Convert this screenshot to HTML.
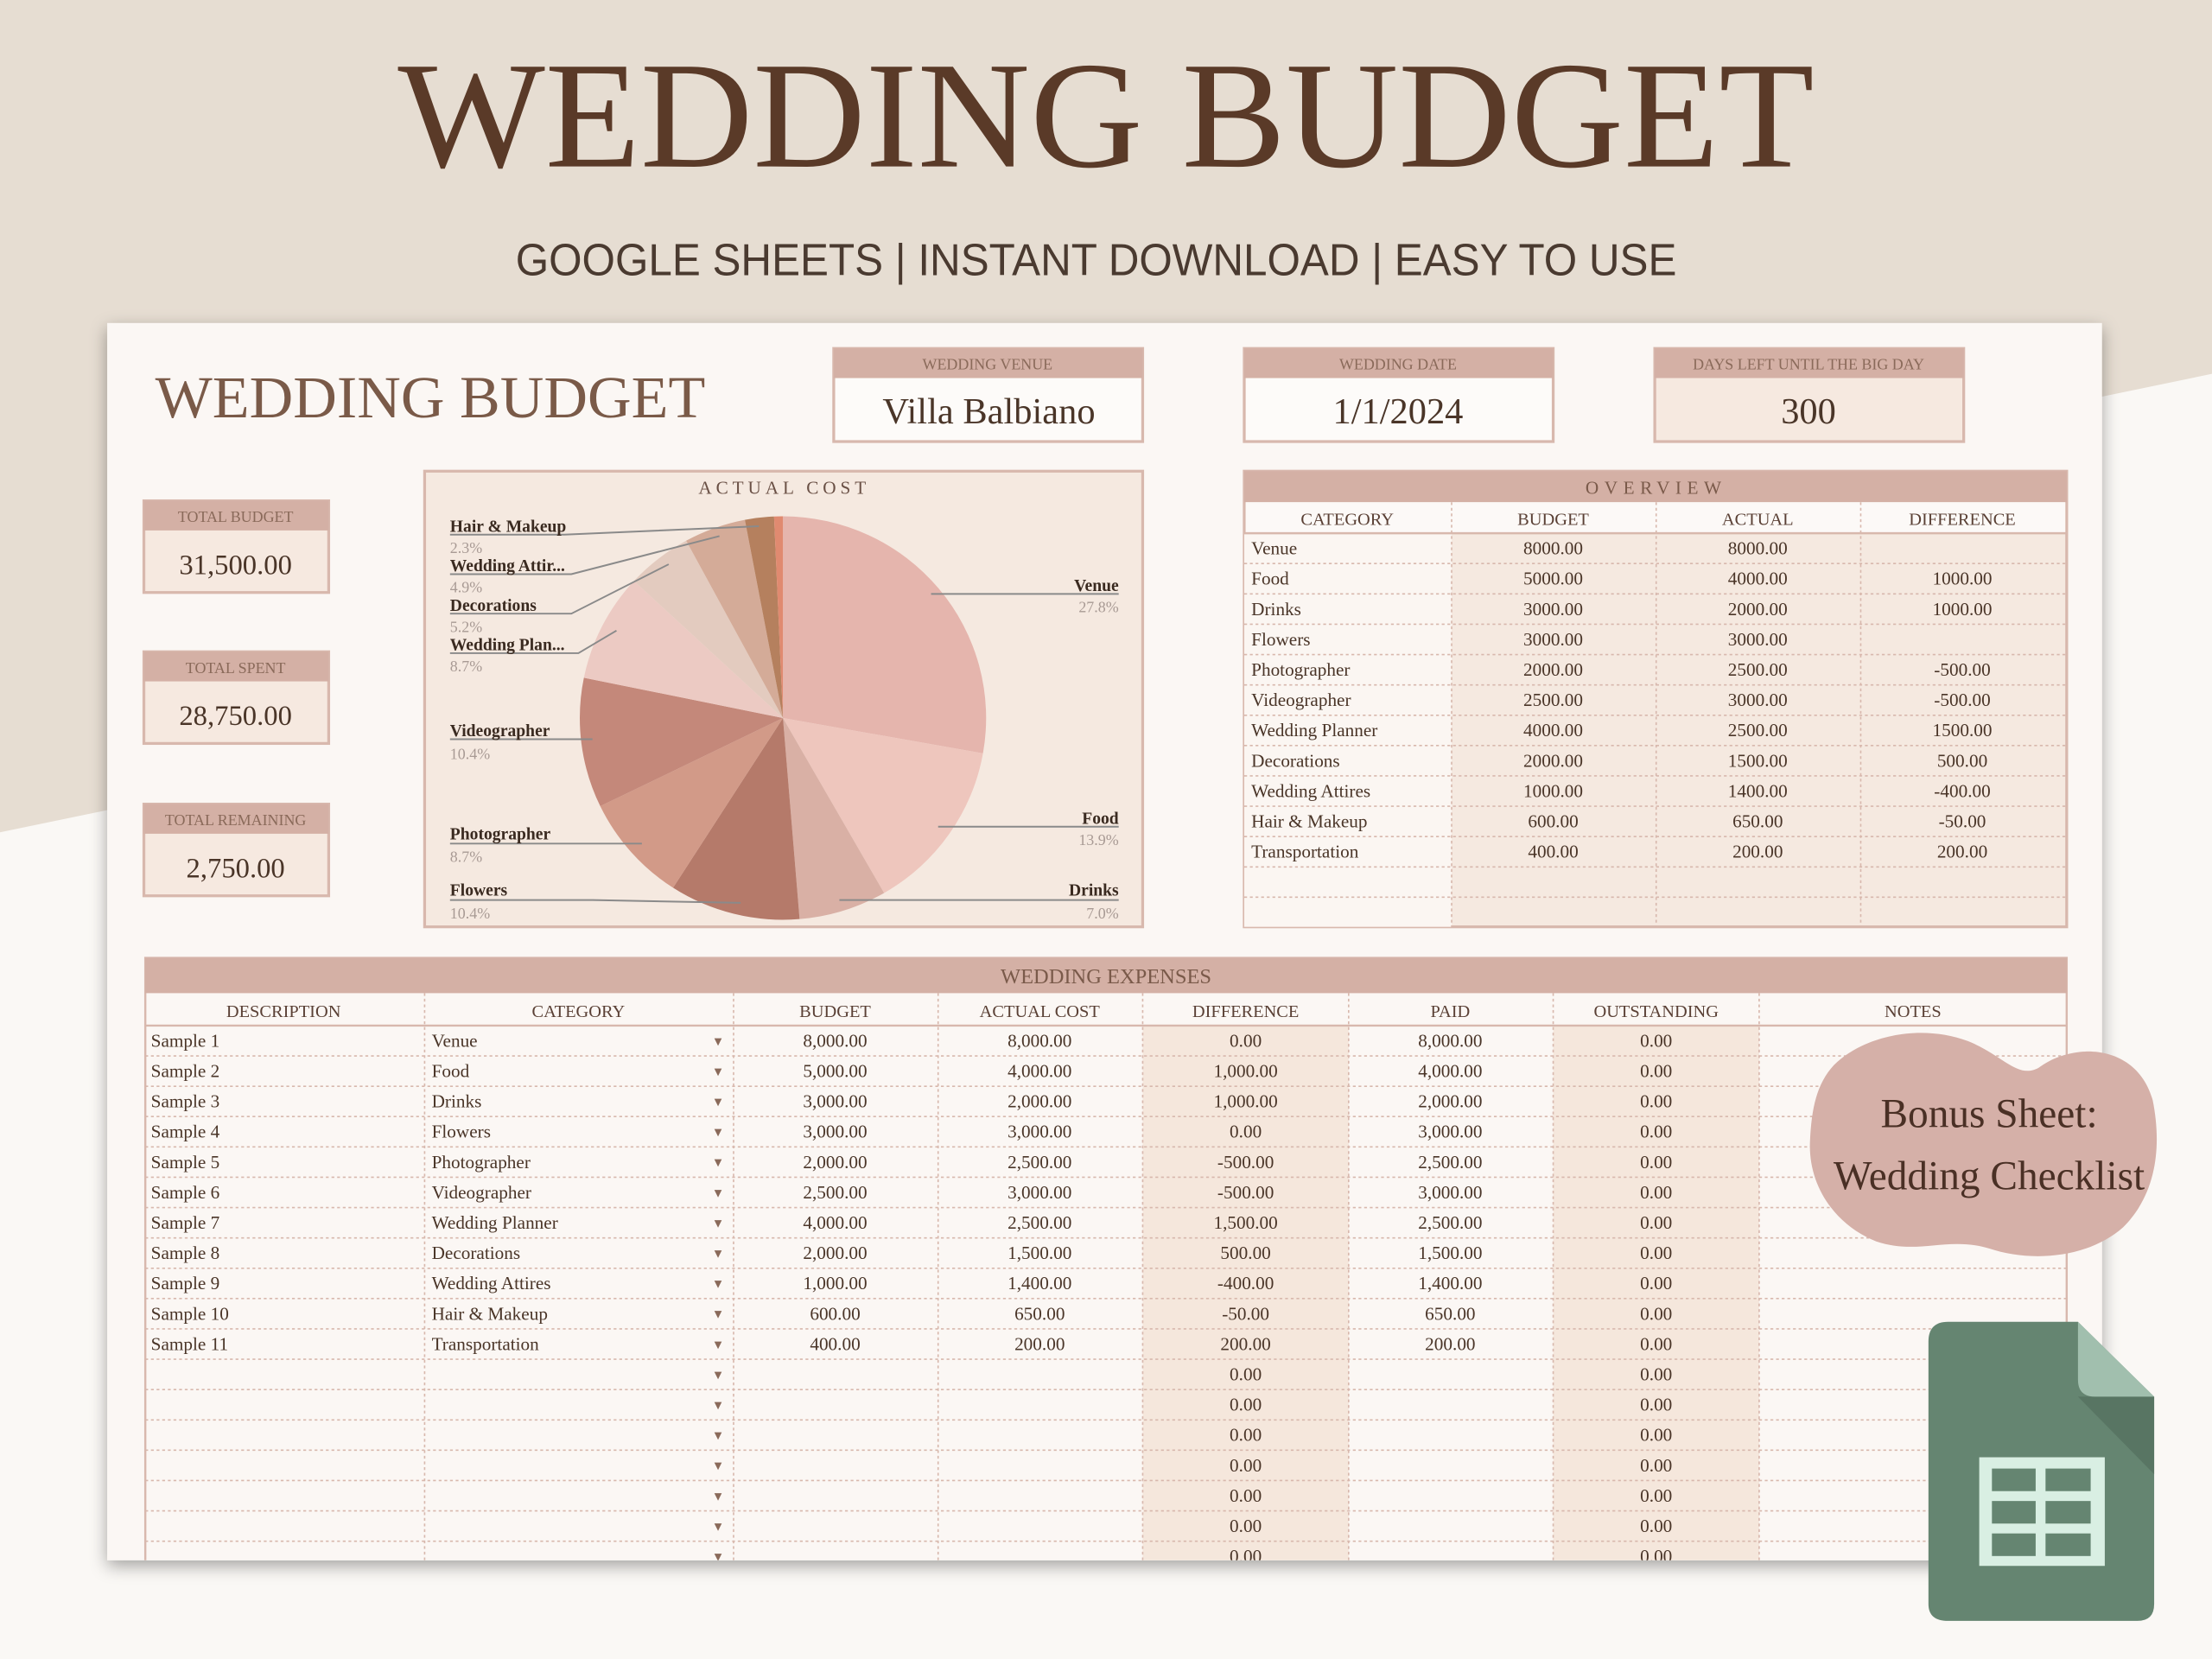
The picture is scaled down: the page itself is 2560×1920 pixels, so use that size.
<!DOCTYPE html>
<html><head><meta charset="utf-8"><style>
html,body{margin:0;padding:0;background:#faf8f5;}
svg{display:block}
text{font-family:"Liberation Serif",serif;}
.t{font-size:13px;fill:#4a3528;}
.h{font-size:12.5px;fill:#5a4035;}
.c{text-anchor:middle;}
.lb{font-size:12px;fill:#3a2a20;font-weight:bold;}
.pc{font-size:11px;fill:#a89a94;}
</style></head><body>
<svg xmlns="http://www.w3.org/2000/svg" width="2560" height="1920" viewBox="0 0 1568 1176">
<defs>
<filter id="sh" x="-5%" y="-5%" width="110%" height="115%"><feDropShadow dx="0" dy="4" stdDeviation="6" flood-color="#000" flood-opacity="0.35"/></filter>
<clipPath id="cp"><rect x="76" y="229" width="1414" height="877"/></clipPath>
</defs>
<rect width="1568" height="1176" fill="#faf8f5"/>
<polygon points="0,0 1568,0 1568,265 0,590" fill="#e6ddd2"/>
<text x="784" y="118" text-anchor="middle" font-size="108" fill="#5a3a28" textLength="1004" lengthAdjust="spacingAndGlyphs">WEDDING BUDGET</text>
<text x="777" y="195" text-anchor="middle" font-size="32" fill="#4a3a30" style="font-family:'Liberation Sans',sans-serif" textLength="823" lengthAdjust="spacingAndGlyphs">GOOGLE SHEETS | INSTANT DOWNLOAD | EASY TO USE</text>

<rect x="76" y="229" width="1414" height="877" fill="#fbf7f4" filter="url(#sh)"/>
<g clip-path="url(#cp)">
<text x="110" y="296" font-size="42" fill="#7a5a48" textLength="390" lengthAdjust="spacingAndGlyphs">WEDDING BUDGET</text>

<!-- top boxes -->
<g stroke="#d8b8ad" stroke-width="2">
<rect x="591" y="247" width="219" height="66" fill="#fdfbf9"/>
<rect x="882" y="247" width="219" height="66" fill="#fdfbf9"/>
<rect x="1173" y="247" width="219" height="66" fill="#f6e9e0"/>
</g>
<rect x="591" y="247" width="219" height="21" fill="#d4b0a5"/>
<rect x="882" y="247" width="219" height="21" fill="#d4b0a5"/>
<rect x="1173" y="247" width="219" height="21" fill="#d4b0a5"/>
<g font-size="11" fill="#8a6a5a" text-anchor="middle">
<text x="700" y="262">WEDDING VENUE</text>
<text x="991" y="262">WEDDING DATE</text>
<text x="1282" y="262">DAYS LEFT UNTIL THE BIG DAY</text>
</g>
<g font-size="26" fill="#4a3528" text-anchor="middle">
<text x="701" y="300">Villa Balbiano</text>
<text x="991" y="300">1/1/2024</text>
<text x="1282" y="300">300</text>
</g>

<!-- stat boxes -->
<g stroke="#d8b8ad" stroke-width="2" fill="#f6e9e0">
<rect x="102" y="355" width="131" height="65"/>
<rect x="102" y="462" width="131" height="65"/>
<rect x="102" y="570" width="131" height="65"/>
</g>
<g fill="#d4b0a5">
<rect x="102" y="355" width="131" height="21"/>
<rect x="102" y="462" width="131" height="21"/>
<rect x="102" y="570" width="131" height="21"/>
</g>
<g font-size="11" fill="#8a6a5a" text-anchor="middle">
<text x="167" y="370">TOTAL BUDGET</text>
<text x="167" y="477">TOTAL SPENT</text>
<text x="167" y="585">TOTAL REMAINING</text>
</g>
<g font-size="20" fill="#4a3528" text-anchor="middle">
<text x="167" y="407">31,500.00</text>
<text x="167" y="514">28,750.00</text>
<text x="167" y="622">2,750.00</text>
</g>

<!-- pie box -->
<rect x="301" y="334" width="509" height="323" fill="#f5e9e0" stroke="#d8b8ad" stroke-width="2"/>
<text x="556" y="350" text-anchor="middle" font-size="13" fill="#6a5045" letter-spacing="3">ACTUAL COST</text>
<g stroke="none">
<path d="M555,509 L555,366 A144,143 0 0 1 696.8,534 Z" fill="#e5b5ad"/>
<path d="M555,509 L696.8,534 A144,143 0 0 1 626.7,633 Z" fill="#eec6bd"/>
<path d="M555,509 L626.7,633 A144,143 0 0 1 566.8,651.5 Z" fill="#d9b0a5"/>
<path d="M555,509 L566.8,651.5 A144,143 0 0 1 477.1,629.3 Z" fill="#b57a6a"/>
<path d="M555,509 L477.1,629.3 A144,143 0 0 1 425.5,571.5 Z" fill="#d29a88"/>
<path d="M555,509 L425.5,571.5 A144,143 0 0 1 413.9,480.4 Z" fill="#c4887a"/>
<path d="M555,509 L413.9,480.4 A144,143 0 0 1 449.4,411.8 Z" fill="#eccac3"/>
<path d="M555,509 L449.4,411.8 A144,143 0 0 1 486.4,383.3 Z" fill="#e3cbbf"/>
<path d="M555,509 L486.4,383.3 A144,143 0 0 1 528,368.5 Z" fill="#d4ab98"/>
<path d="M555,509 L528,368.5 A144,143 0 0 1 548.7,366.1 Z" fill="#b5805e"/>
<path d="M555,509 L548.7,366.1 A144,143 0 0 1 555,366 Z" fill="#e08a70"/>
</g>
<g stroke="#8a8a8a" stroke-width="1.2" fill="none">
<polyline points="660,421 793,421"/>
<polyline points="665,586 793,586"/>
<polyline points="595,638 793,638"/>
<polyline points="319,379 400,379 538,373"/>
<polyline points="319,407 405,407 510,380"/>
<polyline points="319,435 405,435 474,400"/>
<polyline points="319,463 410,463 437,447"/>
<polyline points="319,524 420,524"/>
<polyline points="319,598 455,598"/>
<polyline points="319,638 420,638 525,640"/>
</g>
<g class="lb">
<text x="319" y="377" class="lb">Hair &amp; Makeup</text>
<text x="319" y="405" class="lb">Wedding Attir...</text>
<text x="319" y="433" class="lb">Decorations</text>
<text x="319" y="461" class="lb">Wedding Plan...</text>
<text x="319" y="522" class="lb">Videographer</text>
<text x="319" y="595" class="lb">Photographer</text>
<text x="319" y="635" class="lb">Flowers</text>
<text x="793" y="419" class="lb" text-anchor="end">Venue</text>
<text x="793" y="584" class="lb" text-anchor="end">Food</text>
<text x="793" y="635" class="lb" text-anchor="end">Drinks</text>
</g>
<g class="pc">
<text x="319" y="392" class="pc">2.3%</text>
<text x="319" y="420" class="pc">4.9%</text>
<text x="319" y="448" class="pc">5.2%</text>
<text x="319" y="476" class="pc">8.7%</text>
<text x="319" y="538" class="pc">10.4%</text>
<text x="319" y="611" class="pc">8.7%</text>
<text x="319" y="651" class="pc">10.4%</text>
<text x="793" y="434" class="pc" text-anchor="end">27.8%</text>
<text x="793" y="599" class="pc" text-anchor="end">13.9%</text>
<text x="793" y="651" class="pc" text-anchor="end">7.0%</text>
</g>

<!-- overview -->
<rect x="882" y="334" width="583" height="323" fill="#f5e9e0" stroke="#d8b8ad" stroke-width="2"/>
<rect x="882" y="378" width="147" height="279" fill="#fbf6f2"/>
<rect x="882" y="334" width="583" height="22" fill="#d4b0a5"/>
<rect x="883" y="356" width="581" height="22" fill="#fcf9f7"/>
<text x="1174" y="350" class="c" font-size="13" fill="#7a5a4a" letter-spacing="4">OVERVIEW</text>
<g class="h c">
<text x="955" y="372" class="h c">CATEGORY</text>
<text x="1101" y="372" class="h c">BUDGET</text>
<text x="1246" y="372" class="h c">ACTUAL</text>
<text x="1391" y="372" class="h c">DIFFERENCE</text>
</g>
<g stroke="#d8b8ad" stroke-width="1" stroke-dasharray="2,2">
<line x1="1029" y1="356" x2="1029" y2="657"/><line x1="1174" y1="356" x2="1174" y2="657"/><line x1="1319" y1="356" x2="1319" y2="657"/>
<line x1="882" y1="399.5" x2="1465" y2="399.5"/><line x1="882" y1="421" x2="1465" y2="421"/><line x1="882" y1="442.5" x2="1465" y2="442.5"/><line x1="882" y1="464" x2="1465" y2="464"/><line x1="882" y1="485.5" x2="1465" y2="485.5"/><line x1="882" y1="507" x2="1465" y2="507"/><line x1="882" y1="528.5" x2="1465" y2="528.5"/><line x1="882" y1="550" x2="1465" y2="550"/><line x1="882" y1="571.5" x2="1465" y2="571.5"/><line x1="882" y1="593" x2="1465" y2="593"/><line x1="882" y1="614.5" x2="1465" y2="614.5"/><line x1="882" y1="636" x2="1465" y2="636"/>
</g>
<line x1="882" y1="378" x2="1465" y2="378" stroke="#d8b8ad" stroke-width="1.5"/>
<g class="t">
<text x="887" y="393">Venue</text><text x="887" y="414.5">Food</text><text x="887" y="436">Drinks</text><text x="887" y="457.5">Flowers</text><text x="887" y="479">Photographer</text><text x="887" y="500.5">Videographer</text><text x="887" y="522">Wedding Planner</text><text x="887" y="543.5">Decorations</text><text x="887" y="565">Wedding Attires</text><text x="887" y="586.5">Hair &amp; Makeup</text><text x="887" y="608">Transportation</text>
</g>
<g class="t c">
<text x="1101" y="393">8000.00</text><text x="1246" y="393">8000.00</text>
<text x="1101" y="414.5">5000.00</text><text x="1246" y="414.5">4000.00</text><text x="1391" y="414.5">1000.00</text>
<text x="1101" y="436">3000.00</text><text x="1246" y="436">2000.00</text><text x="1391" y="436">1000.00</text>
<text x="1101" y="457.5">3000.00</text><text x="1246" y="457.5">3000.00</text>
<text x="1101" y="479">2000.00</text><text x="1246" y="479">2500.00</text><text x="1391" y="479">-500.00</text>
<text x="1101" y="500.5">2500.00</text><text x="1246" y="500.5">3000.00</text><text x="1391" y="500.5">-500.00</text>
<text x="1101" y="522">4000.00</text><text x="1246" y="522">2500.00</text><text x="1391" y="522">1500.00</text>
<text x="1101" y="543.5">2000.00</text><text x="1246" y="543.5">1500.00</text><text x="1391" y="543.5">500.00</text>
<text x="1101" y="565">1000.00</text><text x="1246" y="565">1400.00</text><text x="1391" y="565">-400.00</text>
<text x="1101" y="586.5">600.00</text><text x="1246" y="586.5">650.00</text><text x="1391" y="586.5">-50.00</text>
<text x="1101" y="608">400.00</text><text x="1246" y="608">200.00</text><text x="1391" y="608">200.00</text>
</g>

<!-- expenses -->
<rect x="103" y="679" width="1362" height="440" fill="#fbf7f4" stroke="#d8b8ad" stroke-width="1.5"/>
<rect x="810" y="727" width="146" height="400" fill="#f5e7dc"/>
<rect x="1101" y="727" width="146" height="400" fill="#f5e7dc"/>
<rect x="103" y="679" width="1362" height="25" fill="#d4b0a5"/>
<text x="784" y="697" class="c" font-size="15" fill="#7a5a4a">WEDDING EXPENSES</text>
<g class="h c">
<text x="201" y="721" class="h c">DESCRIPTION</text><text x="410" y="721" class="h c">CATEGORY</text><text x="592" y="721" class="h c">BUDGET</text><text x="737" y="721" class="h c">ACTUAL COST</text><text x="883" y="721" class="h c">DIFFERENCE</text><text x="1028" y="721" class="h c">PAID</text><text x="1174" y="721" class="h c">OUTSTANDING</text><text x="1356" y="721" class="h c">NOTES</text>
</g>
<line x1="103" y1="727" x2="1465" y2="727" stroke="#d8b8ad" stroke-width="1.5"/>
<g stroke="#d8b8ad" stroke-width="1" stroke-dasharray="2,2">
<line x1="301" y1="704" x2="301" y2="1120"/><line x1="520" y1="704" x2="520" y2="1120"/><line x1="665" y1="704" x2="665" y2="1120"/><line x1="810" y1="704" x2="810" y2="1120"/><line x1="956" y1="704" x2="956" y2="1120"/><line x1="1101" y1="704" x2="1101" y2="1120"/><line x1="1247" y1="704" x2="1247" y2="1120"/>
<line x1="103" y1="748.5" x2="1465" y2="748.5"/><line x1="103" y1="770" x2="1465" y2="770"/><line x1="103" y1="791.5" x2="1465" y2="791.5"/><line x1="103" y1="813" x2="1465" y2="813"/><line x1="103" y1="834.5" x2="1465" y2="834.5"/><line x1="103" y1="856" x2="1465" y2="856"/><line x1="103" y1="877.5" x2="1465" y2="877.5"/><line x1="103" y1="899" x2="1465" y2="899"/><line x1="103" y1="920.5" x2="1465" y2="920.5"/><line x1="103" y1="942" x2="1465" y2="942"/><line x1="103" y1="963.5" x2="1465" y2="963.5"/><line x1="103" y1="985" x2="1465" y2="985"/><line x1="103" y1="1006.5" x2="1465" y2="1006.5"/><line x1="103" y1="1028" x2="1465" y2="1028"/><line x1="103" y1="1049.5" x2="1465" y2="1049.5"/><line x1="103" y1="1071" x2="1465" y2="1071"/><line x1="103" y1="1092.5" x2="1465" y2="1092.5"/>
</g>
<g class="t">
<text x="107" y="742">Sample 1</text><text x="306" y="742">Venue</text>
<text x="107" y="763.5">Sample 2</text><text x="306" y="763.5">Food</text>
<text x="107" y="785">Sample 3</text><text x="306" y="785">Drinks</text>
<text x="107" y="806.5">Sample 4</text><text x="306" y="806.5">Flowers</text>
<text x="107" y="828">Sample 5</text><text x="306" y="828">Photographer</text>
<text x="107" y="849.5">Sample 6</text><text x="306" y="849.5">Videographer</text>
<text x="107" y="871">Sample 7</text><text x="306" y="871">Wedding Planner</text>
<text x="107" y="892.5">Sample 8</text><text x="306" y="892.5">Decorations</text>
<text x="107" y="914">Sample 9</text><text x="306" y="914">Wedding Attires</text>
<text x="107" y="935.5">Sample 10</text><text x="306" y="935.5">Hair &amp; Makeup</text>
<text x="107" y="957">Sample 11</text><text x="306" y="957">Transportation</text>
</g>
<g fill="#8a6a5a" font-size="9" text-anchor="middle">
<text x="509" y="741">▼</text><text x="509" y="762.5">▼</text><text x="509" y="784">▼</text><text x="509" y="805.5">▼</text><text x="509" y="827">▼</text><text x="509" y="848.5">▼</text><text x="509" y="870">▼</text><text x="509" y="891.5">▼</text><text x="509" y="913">▼</text><text x="509" y="934.5">▼</text><text x="509" y="956">▼</text><text x="509" y="977.5">▼</text><text x="509" y="999">▼</text><text x="509" y="1020.5">▼</text><text x="509" y="1042">▼</text><text x="509" y="1063.5">▼</text><text x="509" y="1085">▼</text><text x="509" y="1106.5">▼</text>
</g>
<g class="t c">
<text x="592" y="742">8,000.00</text><text x="737" y="742">8,000.00</text><text x="883" y="742">0.00</text><text x="1028" y="742">8,000.00</text><text x="1174" y="742">0.00</text>
<text x="592" y="763.5">5,000.00</text><text x="737" y="763.5">4,000.00</text><text x="883" y="763.5">1,000.00</text><text x="1028" y="763.5">4,000.00</text><text x="1174" y="763.5">0.00</text>
<text x="592" y="785">3,000.00</text><text x="737" y="785">2,000.00</text><text x="883" y="785">1,000.00</text><text x="1028" y="785">2,000.00</text><text x="1174" y="785">0.00</text>
<text x="592" y="806.5">3,000.00</text><text x="737" y="806.5">3,000.00</text><text x="883" y="806.5">0.00</text><text x="1028" y="806.5">3,000.00</text><text x="1174" y="806.5">0.00</text>
<text x="592" y="828">2,000.00</text><text x="737" y="828">2,500.00</text><text x="883" y="828">-500.00</text><text x="1028" y="828">2,500.00</text><text x="1174" y="828">0.00</text>
<text x="592" y="849.5">2,500.00</text><text x="737" y="849.5">3,000.00</text><text x="883" y="849.5">-500.00</text><text x="1028" y="849.5">3,000.00</text><text x="1174" y="849.5">0.00</text>
<text x="592" y="871">4,000.00</text><text x="737" y="871">2,500.00</text><text x="883" y="871">1,500.00</text><text x="1028" y="871">2,500.00</text><text x="1174" y="871">0.00</text>
<text x="592" y="892.5">2,000.00</text><text x="737" y="892.5">1,500.00</text><text x="883" y="892.5">500.00</text><text x="1028" y="892.5">1,500.00</text><text x="1174" y="892.5">0.00</text>
<text x="592" y="914">1,000.00</text><text x="737" y="914">1,400.00</text><text x="883" y="914">-400.00</text><text x="1028" y="914">1,400.00</text><text x="1174" y="914">0.00</text>
<text x="592" y="935.5">600.00</text><text x="737" y="935.5">650.00</text><text x="883" y="935.5">-50.00</text><text x="1028" y="935.5">650.00</text><text x="1174" y="935.5">0.00</text>
<text x="592" y="957">400.00</text><text x="737" y="957">200.00</text><text x="883" y="957">200.00</text><text x="1028" y="957">200.00</text><text x="1174" y="957">0.00</text>
<text x="883" y="978.5">0.00</text><text x="1174" y="978.5">0.00</text>
<text x="883" y="1000">0.00</text><text x="1174" y="1000">0.00</text>
<text x="883" y="1021.5">0.00</text><text x="1174" y="1021.5">0.00</text>
<text x="883" y="1043">0.00</text><text x="1174" y="1043">0.00</text>
<text x="883" y="1064.5">0.00</text><text x="1174" y="1064.5">0.00</text>
<text x="883" y="1086">0.00</text><text x="1174" y="1086">0.00</text>
<text x="883" y="1107.5">0.00</text><text x="1174" y="1107.5">0.00</text>
</g>
</g>

<!-- bonus blob -->
<path d="M1300,755 C1320,735 1360,725 1395,738 C1420,748 1430,765 1445,757 C1470,738 1515,740 1526,780 C1532,810 1530,845 1505,870 C1480,892 1440,895 1410,885 C1380,876 1360,890 1330,880 C1300,868 1282,840 1283,810 C1284,785 1288,768 1300,755 Z" fill="#d5b0a8"/>
<text x="1410" y="799" text-anchor="middle" font-size="29" fill="#4a3025">Bonus Sheet:</text>
<text x="1410" y="843" text-anchor="middle" font-size="29" fill="#4a3025">Wedding Checklist</text>

<!-- sheets icon -->
<path d="M1381,937 L1473,937 L1527,990 L1527,1137 Q1527,1149 1515,1149 L1381,1149 Q1367,1149 1367,1137 L1367,951 Q1367,937 1381,937 Z" fill="#658571"/>
<path d="M1473,990 L1527,1045 L1527,990 Z" fill="#587563"/>
<path d="M1473,937 L1473,978 Q1473,990 1485,990 L1527,990 Z" fill="#a1bfae"/>
<rect x="1403" y="1033" width="89" height="77" fill="#d9efe3"/>
<g fill="#658571">
<rect x="1412" y="1041" width="31" height="16"/><rect x="1450" y="1041" width="32" height="16"/>
<rect x="1412" y="1064" width="31" height="16"/><rect x="1450" y="1064" width="32" height="16"/>
<rect x="1412" y="1087" width="31" height="16"/><rect x="1450" y="1087" width="32" height="16"/>
</g>
</svg>
</body></html>
